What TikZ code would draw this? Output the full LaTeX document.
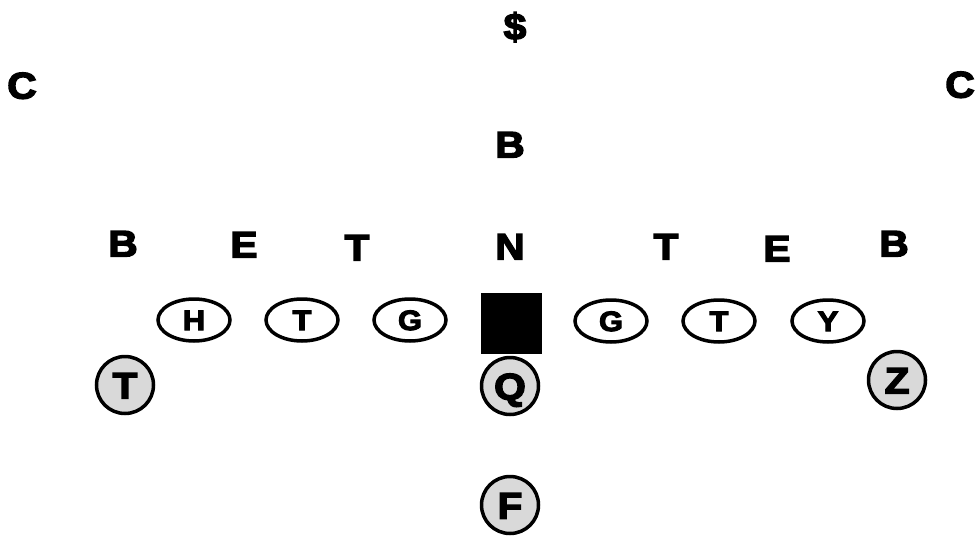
\documentclass[tikz,border=0pt]{standalone}
\usepackage{fontspec}
\usetikzlibrary{shapes.geometric}
\newfontfamily\heavyfont{Liberation Sans Bold}[FakeBold=4,FakeStretch=1.1]

\begin{document}
\begin{tikzpicture}[x=1pt,y=-1pt]
        \tikzstyle{every node}=[inner sep=0pt, text depth=0pt]
        \tikzstyle{defense}=[font=\heavyfont\fontsize{37}{37}\selectfont, text height=27pt]
        \tikzstyle{lineman}=[draw, ellipse, line width=3.5pt, minimum width=72pt, minimum height=42pt, font=\heavyfont\fontsize{28}{28}\selectfont, text height=20pt]
        \tikzstyle{back}=[draw, circle, line width=3.5pt, fill=gray!30, minimum size=57pt, font=\heavyfont\fontsize{37}{37}\selectfont, text height=27pt]
        \tikzstyle{snapper}=[fill=black, minimum size=61pt]
        \useasboundingbox (0,0) rectangle (979,538);
        % secondary
        \node[defense] (safety) at (515,26) {\$};
        \node[defense] (cornerL) at (22,85) {C};
        \node[defense] (cornerR) at (960,84) {C};
        \node[defense] (backer) at (510,144) {B};
        % front
        \node[defense] (backerL) at (123,243) {B};
        \node[defense] (endL) at (244,244) {E};
        \node[defense] (tackleL) at (357,247) {T};
        \node[defense] (nose) at (510,246) {N};
        \node[defense] (tackleR) at (666,246) {T};
        \node[defense] (endR) at (777,248) {E};
        \node[defense] (backerR) at (894,243) {B};
        % offensive line
        \node[lineman] (h) at (194,320) {H};
        \node[lineman] (lt) at (302,320) {T};
        \node[lineman] (lg) at (410,320) {G};
        \node[snapper] (center) at (511,323) {};
        \node[lineman] (rg) at (611,321) {G};
        \node[lineman] (rt) at (719,321) {T};
        \node[lineman] (y) at (828,321) {Y};
        % backs
        \node[back] (t) at (125,385) {T};
        \node[back] (q) at (510,386) {Q};
        \node[back] (z) at (897,380) {Z};
        \node[back] (f) at (510,505) {F};
    \end{tikzpicture}
\end{document}
